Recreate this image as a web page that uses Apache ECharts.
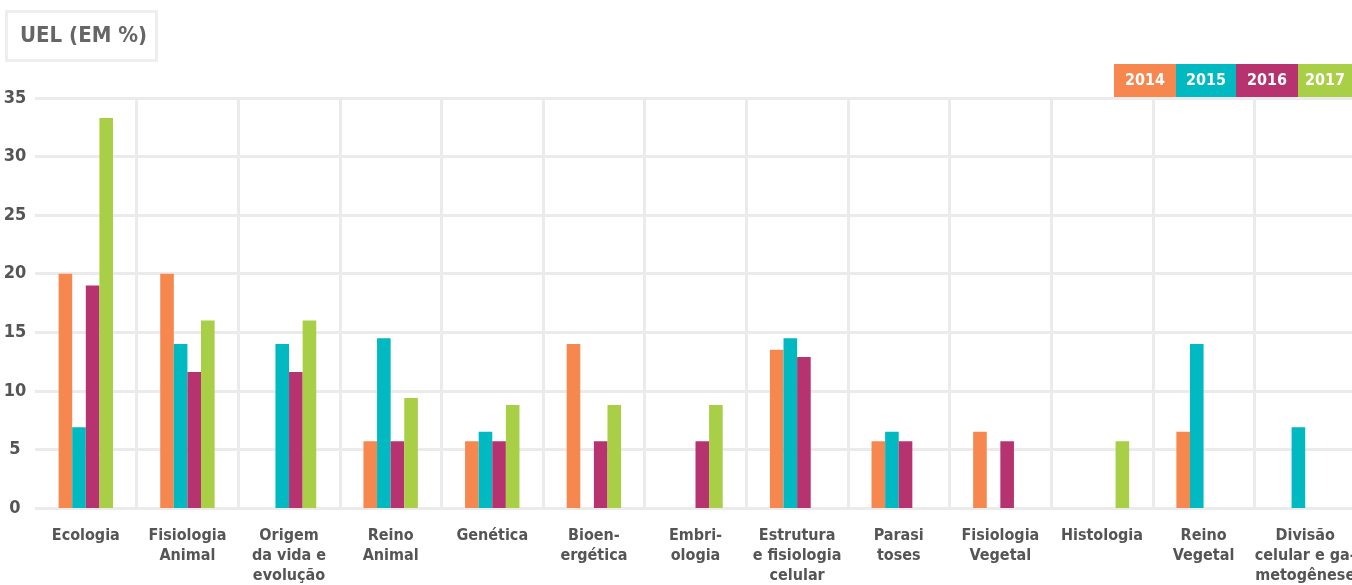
<!DOCTYPE html>
<html><head><meta charset="utf-8">
<script src="https://cdn.jsdelivr.net/npm/echarts@6/dist/echarts.min.js"></script>
<style>html,body{margin:0;padding:0;background:#fff}#c{width:1352px;height:585px}</style>
</head><body><div id="c"></div>
<script>
const categories = ['Ecologia','Fisiologia\nAnimal','Origem\nda vida e\nevolução','Reino\nAnimal','Genética','Bioen-\nergética','Embri-\nologia','Estrutura\ne fisiologia\ncelular','Parasi\ntoses','Fisiologia\nVegetal','Histologia','Reino\nVegetal','Divisão\ncelular e ga-\nmetogênese'];
const years = ['2014','2015','2016','2017'];
const v2014 = [20, 20, null, 5.7, 5.7, 14, null, 13.5, 5.7, 6.5, null, 6.5, null];
const v2015 = [6.9, 14, 14, 14.5, 6.5, null, null, 14.5, 6.5, null, null, 14, 6.9];
const v2016 = [19, 11.6, 11.6, 5.7, 5.7, 5.7, 5.7, 12.9, 5.7, 5.7, null, null, null];
const v2017 = [33.3, 16, 16, 9.4, 8.8, 8.8, 8.8, null, null, null, 5.7, null, null];
const yTicks = [0,5,10,15,20,25,30,35];
const colors = ['#F5874F','#00B9C1','#B7336F','#A8CF45'];
const seriesValues = [v2014, v2015, v2016, v2017];
const FONT = "'DejaVu Sans Condensed','Liberation Sans Narrow',sans-serif";

const legendW = [62, 60, 62, 54];
let lx = 1114;
const legendGraphics = years.map((y, i) => {
  const g = {type:'group', left: lx, top: 64, children:[
    {type:'rect', shape:{x:0,y:0,width:legendW[i],height:33}, style:{fill:colors[i]}},
    {type:'text', style:{x:legendW[i]/2, y:17, text:y, fill:'#fff', font:'bold 16px '+FONT, align:'center', verticalAlign:'middle'}}
  ]};
  lx += legendW[i];
  return g;
});

const chart = echarts.init(document.getElementById('c'), null, {renderer:'canvas'});
chart.setOption({
  animation:false,
  title:{text:'UEL (EM %)', left:6, top:11, padding:[14,10,14,14], borderColor:'#eeeeee', borderWidth:3,
    textStyle:{fontFamily:FONT, fontWeight:'bold', fontSize:22, color:'#666'}},
  graphic: legendGraphics,
  grid:{left:35, top:98, width:1321, bottom:77, containLabel:false, outerBoundsMode:'none'},
  xAxis:{type:'category', data:categories, boundaryGap:true,
    axisLine:{show:false}, axisTick:{show:false},
    splitLine:{show:true, interval:(i)=> i>0, lineStyle:{color:'#ebebeb', width:3}},
    axisLabel:{interval:0, margin:18, fontFamily:FONT, fontWeight:'bold', fontSize:16, lineHeight:20, color:'#555', verticalAlign:'top'}},
  yAxis:{type:'value', min:yTicks[0], max:yTicks[yTicks.length-1], interval:5,
    axisLine:{show:false}, axisTick:{show:false},
    splitLine:{show:true, lineStyle:{color:'#ebebeb', width:3}},
    axisLabel:{margin:20, align:'center', fontFamily:FONT, fontWeight:'bold', fontSize:18, color:'#555'}},
  series: years.map((y,i)=>({name:y, type:'bar', data:seriesValues[i], barWidth:13.6, barGap:'0%',
    itemStyle:{color:colors[i]}}))
});
</script></body></html>
